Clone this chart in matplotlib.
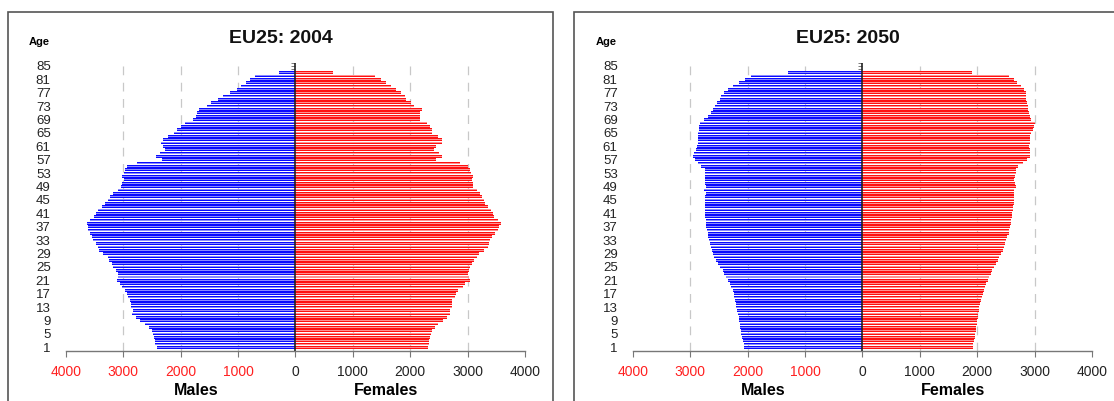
import numpy as np
import matplotlib
matplotlib.use("Agg")
from matplotlib import pyplot as plt
from matplotlib.patches import Rectangle

plt.rcParams['font.family'] = ['Liberation Sans', 'DejaVu Sans']

# ages 1..83 (the axis runs up to 85)
ages = np.arange(1, 84)

# thousands, listed from age 1 upwards
male_2004 = [2420, 2449, 2449, 2461, 2490, 2507, 2548, 2623, 2710, 2780,
             2855, 2838, 2867, 2873, 2885, 2914, 2943, 2972, 3018, 3059,
             3105, 3099, 3099, 3128, 3175, 3204, 3244, 3273, 3360, 3418,
             3447, 3476, 3523, 3540, 3581, 3610, 3622, 3639, 3581, 3505,
             3482, 3436, 3378, 3320, 3273, 3233, 3175, 3099, 3041, 3030,
             2989, 3018, 2983, 2972, 2943, 2757, 2333, 2432, 2362, 2269,
             2304, 2345, 2316, 2217, 2113, 2060, 2002, 1927, 1782, 1735,
             1712, 1677, 1550, 1463, 1346, 1260, 1143, 1027, 952, 865,
             795, 708, 285]
female_2004 = [2310, 2327, 2327, 2339, 2368, 2385, 2426, 2484, 2571, 2641,
               2687, 2699, 2728, 2722, 2734, 2774, 2803, 2838, 2919, 2960,
               3035, 3024, 3006, 3024, 3047, 3076, 3111, 3169, 3198, 3279,
               3355, 3366, 3395, 3424, 3471, 3529, 3540, 3587, 3529, 3459,
               3442, 3401, 3355, 3297, 3279, 3250, 3221, 3169, 3093, 3093,
               3082, 3093, 3053, 3047, 3012, 2861, 2443, 2560, 2501, 2414,
               2455, 2554, 2554, 2484, 2385, 2380, 2351, 2298, 2176, 2176,
               2165, 2211, 2066, 2020, 1933, 1904, 1846, 1747, 1660, 1573,
               1486, 1381, 656]
male_2050 = [2058, 2070, 2087, 2099, 2110, 2116, 2128, 2139, 2145, 2157,
             2168, 2186, 2197, 2203, 2214, 2232, 2243, 2261, 2284, 2313,
             2342, 2371, 2406, 2435, 2475, 2522, 2551, 2580, 2603, 2626,
             2643, 2661, 2678, 2690, 2696, 2707, 2719, 2725, 2730, 2736,
             2742, 2748, 2748, 2748, 2748, 2736, 2730, 2754, 2725, 2736,
             2736, 2748, 2736, 2748, 2806, 2864, 2922, 2951, 2928, 2910,
             2881, 2864, 2870, 2870, 2864, 2852, 2852, 2835, 2754, 2696,
             2638, 2603, 2562, 2533, 2487, 2464, 2417, 2342, 2255, 2157,
             2041, 1943, 1300]
female_2050 = [1919, 1930, 1948, 1959, 1965, 1977, 1983, 1988, 2000, 2006,
               2017, 2023, 2035, 2046, 2064, 2075, 2093, 2116, 2133, 2151,
               2180, 2209, 2232, 2261, 2296, 2325, 2354, 2383, 2412, 2441,
               2464, 2481, 2499, 2528, 2551, 2557, 2568, 2586, 2597, 2609,
               2614, 2626, 2626, 2638, 2638, 2638, 2643, 2643, 2672, 2655,
               2643, 2661, 2672, 2672, 2713, 2800, 2875, 2928, 2928, 2916,
               2904, 2916, 2928, 2928, 2945, 2974, 2986, 3003, 2945, 2916,
               2899, 2887, 2887, 2875, 2846, 2858, 2858, 2817, 2771, 2696,
               2638, 2557, 1901]

titles = ['EU25: 2004', 'EU25: 2050']
age_ticks = list(range(1, 86, 4))
x_ticks = [-4000, -3000, -2000, -1000, 0, 1000, 2000, 3000, 4000]

fig = plt.figure(figsize=(11.14, 4.01), dpi=100)

# panel frames (run off the bottom / right edge like the screenshot)
fig.patches.append(Rectangle((0.0072, -0.05), 0.489, 1.02, transform=fig.transFigure,
                             fill=False, edgecolor='#555555', lw=1.2))
fig.patches.append(Rectangle((0.5153, -0.05), 0.52, 1.02, transform=fig.transFigure,
                             fill=False, edgecolor='#555555', lw=1.2))

lefts = [0.0592, 0.5682]
data = [(male_2004, female_2004), (male_2050, female_2050)]

for i in range(2):
  males, females = data[i]
  males = np.array(males); females = np.array(females)
  ax = fig.add_axes([lefts[i], 0.1254, 0.412, 0.7186])

  ax.barh(ages, -males, height=0.8, color='#0a0aff', lw=0, zorder=3)
  ax.barh(ages, -males, height=0.3, color='#8a8aff', lw=0, zorder=4)
  ax.barh(ages, females, height=0.8, color='#ff1010', lw=0, zorder=3)
  ax.barh(ages, females, height=0.3, color='#ff9090', lw=0, zorder=4)

  # center axis with small category ticks
  ax.hlines(np.arange(1, 87), -70, 0, color='#666666', lw=0.6, zorder=1)
  ax.axvline(0, ymin=0, ymax=1, color='#222222', lw=1.2, zorder=5)

  ax.set_xlim(-4000, 4000)
  ax.set_ylim(0, 86)
  for g in [-3000, -2000, -1000, 1000, 2000, 3000]:
    ax.axvline(g, color='#c8c8c8', lw=0.9, dashes=(7, 6), zorder=0)

  ax.set_yticks(age_ticks)
  ax.set_yticklabels([str(a) for a in age_ticks], fontsize=9.5, color='#222222')
  ax.tick_params(axis='y', length=0, pad=11)
  ax.set_xticks(x_ticks)
  ax.set_xticklabels([str(abs(v)) for v in x_ticks], fontsize=10)
  for lab, v in zip(ax.get_xticklabels(), x_ticks):
    lab.set_color('#ff2020' if v < 0 else '#222222')
  ax.tick_params(axis='x', length=4, color='#777777', pad=6)

  for s in ['left', 'top', 'right']:
    ax.spines[s].set_visible(False)
  ax.spines['bottom'].set_color('#777777')
  ax.spines['bottom'].set_linewidth(1.0)

  t = ax.set_title(titles[i], fontsize=14, fontweight='bold', pad=14, color='#111111')
  t.set_x(0.469)
  ax.text(-0.058, 1.07, 'Age', transform=ax.transAxes, fontsize=8, fontweight='bold',
          ha='center', va='center')
  ax.text(-1730, -11.8, 'Males', fontsize=11.5, fontweight='bold', ha='center', va='center')
  ax.text(1570, -11.8, 'Females', fontsize=11.5, fontweight='bold', ha='center', va='center')

fig.savefig('out.png', dpi=100)
